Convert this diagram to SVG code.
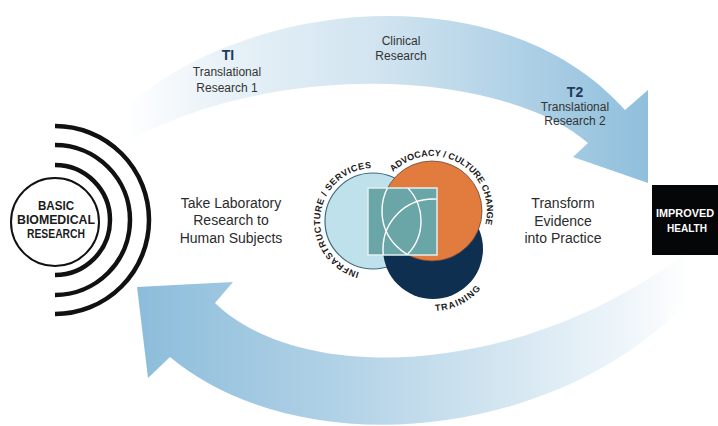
<svg xmlns="http://www.w3.org/2000/svg" xmlns:xlink="http://www.w3.org/1999/xlink" width="718" height="426" viewBox="0 0 718 426">
<style>
.lbl{font-family:"Liberation Sans",Arial,sans-serif;font-size:12px;fill:#333;text-anchor:middle}
.big{font-family:"Liberation Sans",Arial,sans-serif;font-size:14px;fill:#2b2b2b;text-anchor:middle}
.tt{font-family:"Liberation Sans",Arial,sans-serif;font-size:14px;font-weight:bold;fill:#1d3a5c;text-anchor:middle}
.bb{font-family:"Liberation Sans",Arial,sans-serif;font-size:12.5px;font-weight:bold;fill:#1a1a1a;text-anchor:middle}
.ih{font-family:"Liberation Sans",Arial,sans-serif;font-size:11px;font-weight:bold;fill:#fff;text-anchor:middle}
.arc{font-family:"Liberation Sans",Arial,sans-serif;font-size:9px;font-weight:bold;fill:#1a1a1a}
.ring{fill:none;stroke:#111;stroke-width:4.5}
.wl{fill:none;stroke:#fff;stroke-width:1.4}
</style>
<defs>
<linearGradient id="gTop" gradientUnits="userSpaceOnUse" x1="125" y1="0" x2="650" y2="0">
<stop offset="0" stop-color="#ffffff"/>
<stop offset="0.18" stop-color="#e9f2f8"/>
<stop offset="0.5" stop-color="#cfe3ef"/>
<stop offset="0.8" stop-color="#a9cde4"/>
<stop offset="1" stop-color="#8fbfdc"/>
</linearGradient>
<linearGradient id="gBot" gradientUnits="userSpaceOnUse" x1="140" y1="0" x2="690" y2="0">
<stop offset="0" stop-color="#8dbddb"/>
<stop offset="0.35" stop-color="#b0d1e6"/>
<stop offset="0.65" stop-color="#d2e5f0"/>
<stop offset="0.88" stop-color="#eef5fa"/>
<stop offset="1" stop-color="#ffffff"/>
</linearGradient>
<clipPath id="sq"><rect x="368" y="188" width="69" height="67"/></clipPath>
<path id="pInfra" d="M 359.3,272.2 A 53 53 0 0 1 378.5,168.3"/>
<path id="pAdv" d="M 393.1,172.1 A 55 55 0 0 1 485.1,225.2"/>
<path id="pTrain" d="M 435.2,311 A 62 62 0 0 0 483.8,284.6"/>
</defs>

<g id="connectors">
<path id="arrow-top" fill="url(#gTop)" d="M 120,112 C 240,0 500,-30 625,110 L 648,90 L 648,183 L 573,157 L 588,143 C 510,75 290,55 130,140 Z"/>
<path id="arrow-bottom" fill="url(#gBot)" d="M 215,303 C 300,385 520,380 690,250 L 700,290 C 560,445 300,465 170,357 L 148,378 L 137,287 L 233,282 Z"/>
</g>

<g id="basic-research">
<path class="ring" d="M 55,165 A 55 55 0 0 1 55,275"/>
<path class="ring" d="M 55,145 A 75 75 0 0 1 55,295"/>
<path class="ring" d="M 55,126 A 94 94 0 0 1 55,314"/>
<circle cx="55" cy="222" r="44" fill="#fff" stroke="#111" stroke-width="2"/>
<text class="bb" x="56" y="210" textLength="36" lengthAdjust="spacingAndGlyphs">BASIC</text>
<text class="bb" x="56" y="224" textLength="78" lengthAdjust="spacingAndGlyphs">BIOMEDICAL</text>
<text class="bb" x="56" y="238" textLength="58" lengthAdjust="spacingAndGlyphs">RESEARCH</text>
</g>

<g id="improved-health">
<rect x="652" y="185" width="66" height="70" fill="#050608"/>
<text class="ih" x="685" y="217" textLength="58" lengthAdjust="spacingAndGlyphs">IMPROVED</text>
<text class="ih" x="687" y="232" textLength="40" lengthAdjust="spacingAndGlyphs">HEALTH</text>
</g>

<g id="label-t1">
<text class="tt" x="228" y="60">TI</text>
<text class="lbl" x="227" y="76">Translational</text>
<text class="lbl" x="227" y="92">Research 1</text>
</g>
<g id="label-clinical">
<text class="lbl" x="401" y="45">Clinical</text>
<text class="lbl" x="401" y="60">Research</text>
</g>
<g id="label-t2">
<text class="tt" x="575" y="97">T2</text>
<text class="lbl" x="575" y="111">Translational</text>
<text class="lbl" x="575" y="125">Research 2</text>
</g>

<g id="label-take">
<text class="big" x="231" y="208">Take Laboratory</text>
<text class="big" x="231" y="225">Research to</text>
<text class="big" x="231" y="243">Human Subjects</text>
</g>
<g id="label-transform">
<text class="big" x="563" y="208">Transform</text>
<text class="big" x="563" y="226">Evidence</text>
<text class="big" x="563" y="243">into Practice</text>
</g>

<g id="venn">
<circle cx="373" cy="221" r="48" fill="#bfe1ec" stroke="#3f6b7c" stroke-width="1.2"/>
<circle cx="433" cy="249" r="50" fill="#0e2f4f"/>
<circle cx="432" cy="211" r="50" fill="#e27b3e" stroke="#6a4a36" stroke-width="0.8"/>
<rect x="368" y="188" width="69" height="67" fill="#6aa5a7"/>
<g clip-path="url(#sq)">
<circle class="wl" cx="373" cy="221" r="48"/>
<circle class="wl" cx="432" cy="211" r="50"/>
<circle class="wl" cx="433" cy="249" r="50"/>
</g>
<rect x="368" y="188" width="69" height="67" fill="none" stroke="#e4efef" stroke-width="1.5"/>
<text class="arc" letter-spacing="0.6"><textPath xlink:href="#pInfra">INFRASTRUCTURE / SERVICES</textPath></text>
<text class="arc"><textPath xlink:href="#pAdv">ADVOCACY / CULTURE CHANGE</textPath></text>
<text class="arc" letter-spacing="1.2"><textPath xlink:href="#pTrain">TRAINING</textPath></text>
</g>
</svg>
